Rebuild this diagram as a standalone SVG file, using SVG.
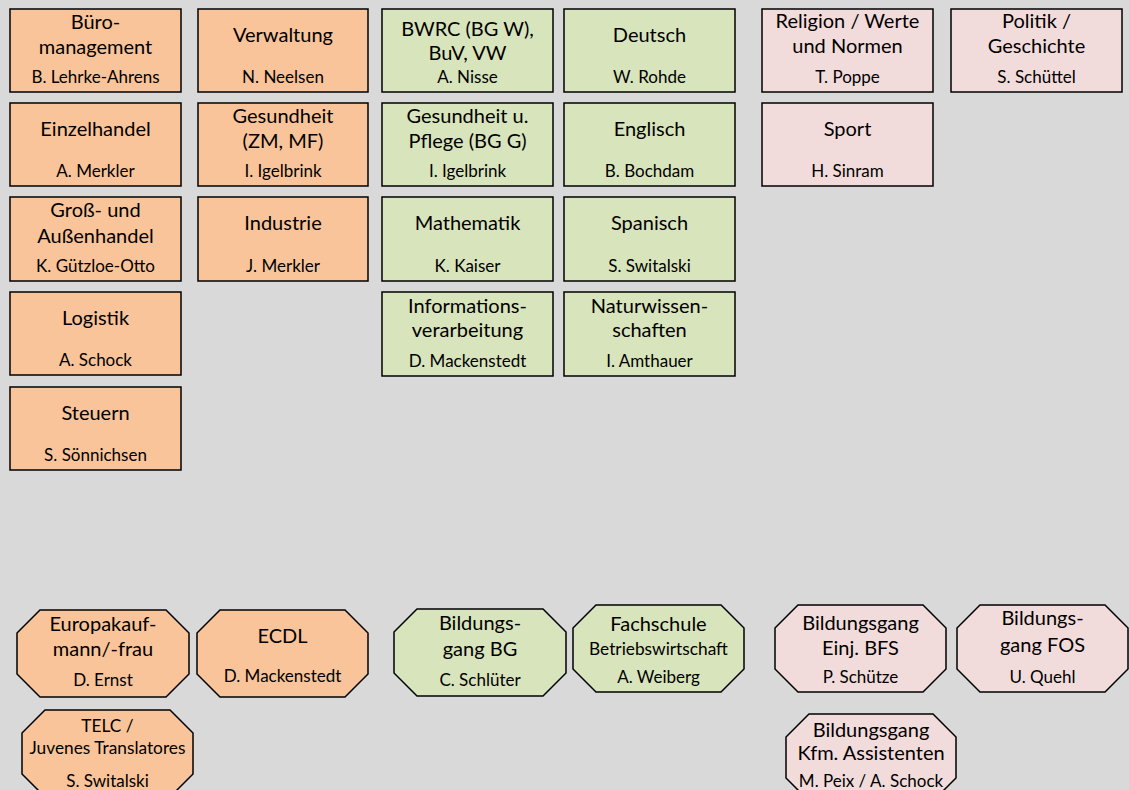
<svg xmlns="http://www.w3.org/2000/svg" width="1129" height="790" viewBox="0 0 1129 790">
<style>
.o{fill:#F9C49A;stroke:#000;stroke-width:1.5}
.g{fill:#D8E4BC;stroke:#000;stroke-width:1.5}
.p{fill:#F2DCDB;stroke:#000;stroke-width:1.5}
text{font-family:Lato,"Open Sans",sans-serif;fill:#000;text-anchor:middle}
.t{font-size:20px}
.ts{font-size:20px}
.tx{font-size:17.3px}
.n{font-size:17px}
</style>
<rect width="1129" height="790" fill="#D9D9D9"/>
<g id="connectors"/>
<g id="bueromanagement"><rect class="o" x="10" y="9" width="171" height="83"/><text class="t" x="95.5" y="29">Büro-</text><text class="t" x="95.5" y="54">management</text><text class="n" x="95.5" y="83">B. Lehrke-Ahrens</text></g>
<g id="verwaltung"><rect class="o" x="198" y="9" width="170" height="83"/><text class="t" x="283" y="42">Verwaltung</text><text class="n" x="283" y="83">N. Neelsen</text></g>
<g id="einzelhandel"><rect class="o" x="10" y="103" width="171" height="83"/><text class="t" x="95.5" y="136">Einzelhandel</text><text class="n" x="95.5" y="177">A. Merkler</text></g>
<g id="gesundheit"><rect class="o" x="198" y="103" width="170" height="83"/><text class="t" x="283" y="123">Gesundheit</text><text class="t" x="283" y="148">(ZM, MF)</text><text class="n" x="283" y="177">I. Igelbrink</text></g>
<g id="grosshandel"><rect class="o" x="10" y="197" width="171" height="84"/><text class="t" x="95.5" y="217">Groß- und</text><text class="t" x="95.5" y="243">Außenhandel</text><text class="n" x="95.5" y="272">K. Gützloe-Otto</text></g>
<g id="industrie"><rect class="o" x="198" y="197" width="170" height="84"/><text class="t" x="283" y="230">Industrie</text><text class="n" x="283" y="272">J. Merkler</text></g>
<g id="logistik"><rect class="o" x="10" y="292" width="171" height="83"/><text class="t" x="95.5" y="325">Logistik</text><text class="n" x="95.5" y="366">A. Schock</text></g>
<g id="steuern"><rect class="o" x="10" y="387" width="171" height="83"/><text class="t" x="95.5" y="420">Steuern</text><text class="n" x="95.5" y="461">S. Sönnichsen</text></g>
<g id="bwrc"><rect class="g" x="382" y="9" width="171" height="83"/><text class="t" x="467.5" y="36">BWRC (BG W),</text><text class="t" x="467.5" y="60">BuV, VW</text><text class="n" x="467.5" y="83">A. Nisse</text></g>
<g id="deutsch"><rect class="g" x="564" y="9" width="171" height="83"/><text class="t" x="649.5" y="42">Deutsch</text><text class="n" x="649.5" y="83">W. Rohde</text></g>
<g id="gesundheit-pflege"><rect class="g" x="382" y="103" width="171" height="83"/><text class="t" x="467.5" y="123">Gesundheit u.</text><text class="t" x="467.5" y="148">Pflege (BG G)</text><text class="n" x="467.5" y="177">I. Igelbrink</text></g>
<g id="englisch"><rect class="g" x="564" y="103" width="171" height="83"/><text class="t" x="649.5" y="136">Englisch</text><text class="n" x="649.5" y="177">B. Bochdam</text></g>
<g id="mathematik"><rect class="g" x="382" y="197" width="171" height="84"/><text class="t" x="467.5" y="230">Mathematik</text><text class="n" x="467.5" y="272">K. Kaiser</text></g>
<g id="spanisch"><rect class="g" x="564" y="197" width="171" height="84"/><text class="t" x="649.5" y="230">Spanisch</text><text class="n" x="649.5" y="272">S. Switalski</text></g>
<g id="informationsverarbeitung"><rect class="g" x="382" y="292" width="171" height="84"/><text class="t" x="467.5" y="313">Informations-</text><text class="t" x="467.5" y="337">verarbeitung</text><text class="n" x="467.5" y="367">D. Mackenstedt</text></g>
<g id="naturwissenschaften"><rect class="g" x="564" y="292" width="171" height="84"/><text class="t" x="649.5" y="313">Naturwissen-</text><text class="t" x="649.5" y="337">schaften</text><text class="n" x="649.5" y="367">I. Amthauer</text></g>
<g id="religion"><rect class="p" x="762" y="9" width="171" height="83"/><text class="t" x="847.5" y="28">Religion / Werte</text><text class="t" x="847.5" y="53">und Normen</text><text class="n" x="847.5" y="83">T. Poppe</text></g>
<g id="politik"><rect class="p" x="951" y="9" width="171" height="83"/><text class="t" x="1036.5" y="28">Politik /</text><text class="t" x="1036.5" y="53">Geschichte</text><text class="n" x="1036.5" y="83">S. Schüttel</text></g>
<g id="sport"><rect class="p" x="762" y="103" width="171" height="83"/><text class="t" x="847.5" y="136">Sport</text><text class="n" x="847.5" y="177">H. Sinram</text></g>
<g id="europakaufmann"><path class="o" d="M40,610H166L189,633V674L166,697H40L17,674V633Z"/><text class="ts" x="103" y="631">Europakauf-</text><text class="ts" x="103" y="656">mann/-frau</text><text class="n" x="103" y="686">D. Ernst</text></g>
<g id="ecdl"><path class="o" d="M220,610H345L368,633V674L345,697H220L197,674V633Z"/><text class="ts" x="282.5" y="643">ECDL</text><text class="n" x="282.5" y="682">D. Mackenstedt</text></g>
<g id="telc"><path class="o" d="M45,710H170L193,733V774L170,797H45L22,774V733Z"/><text class="tx" x="107.5" y="732">TELC /</text><text class="tx" x="107.5" y="754">Juvenes Translatores</text><text class="n" x="107.5" y="787">S. Switalski</text></g>
<g id="bildungsgang-bg"><path class="g" d="M417,609H543L566,632V673L543,696H417L394,673V632Z"/><text class="ts" x="480" y="630">Bildungs-</text><text class="ts" x="480" y="656">gang BG</text><text class="n" x="480" y="686">C. Schlüter</text></g>
<g id="fachschule"><path class="g" d="M596,605H721L744,628V669L721,692H596L573,669V628Z"/><text class="ts" x="658.5" y="631">Fachschule</text><text class="tx" x="658.5" y="655">Betriebswirtschaft</text><text class="n" x="658.5" y="683">A. Weiberg</text></g>
<g id="bildungsgang-bfs"><path class="p" d="M798,605H923L946,628V669L923,692H798L775,669V628Z"/><text class="ts" x="860.5" y="630">Bildungsgang</text><text class="ts" x="860.5" y="655">Einj. BFS</text><text class="n" x="860.5" y="683">P. Schütze</text></g>
<g id="bildungsgang-fos"><path class="p" d="M980,605H1105L1128,628V669L1105,692H980L957,669V628Z"/><text class="ts" x="1042.5" y="625">Bildungs-</text><text class="ts" x="1042.5" y="652">gang FOS</text><text class="n" x="1042.5" y="683">U. Quehl</text></g>
<g id="bildungsgang-kfm"><path class="p" d="M809,714H933L956,737V778L933,801H809L786,778V737Z"/><text class="ts" x="871" y="737">Bildungsgang</text><text class="ts" x="871" y="760">Kfm. Assistenten</text><text class="n" x="871" y="787">M. Peix / A. Schock</text></g>
</svg>
